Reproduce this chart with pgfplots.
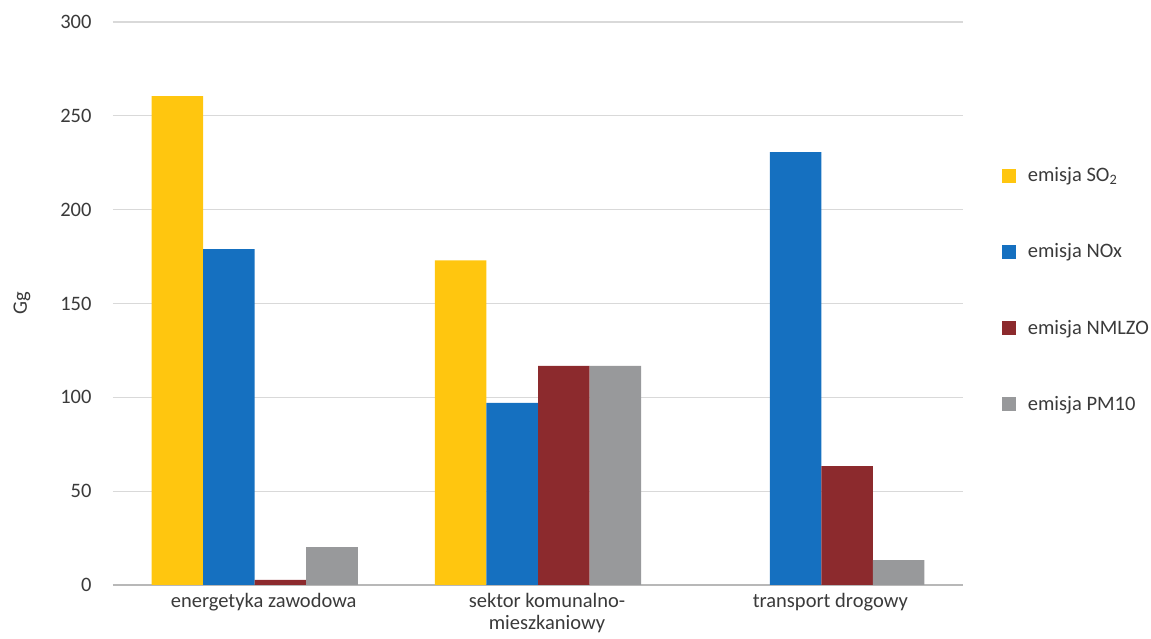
\documentclass[border=0pt]{standalone}
\usepackage{fontspec}
\setmainfont{Carlito}
\usepackage{pgfplots}
\pgfplotsset{compat=1.18}
\definecolor{cso}{HTML}{FFC60F}
\definecolor{cno}{HTML}{1570C0}
\definecolor{cnm}{HTML}{8C2A2D}
\definecolor{cpm}{HTML}{98999B}
\definecolor{ctxt}{HTML}{3A3A3A}
\definecolor{cgrid}{HTML}{D9D9D9}
\pgfplotsset{sqleg/.style={legend image code/.code={\fill[##1] (0pt,-7pt) rectangle (14pt,7pt);}}}
\begin{document}
\begin{tikzpicture}
\useasboundingbox (-113pt,-54pt) rectangle (1038pt,585pt);
\begin{axis}[
  at={(0,0)}, anchor=south west,
  scale only axis, width=850pt, height=563pt,
  xmin=-0.5, xmax=2.5, ymin=0, ymax=300,
  ybar=0pt, bar width=0.182,
  xtick={0,1,2},
  xticklabels={energetyka zawodowa,{sektor komunalno-\\mieszkaniowy},transport drogowy},
  ytick={0,50,...,300},
  major tick length=0pt,
  axis x line=bottom, axis y line=left,
  x axis line style={-, draw=cgrid!85!black, line width=1.2pt},
  y axis line style={draw=none},
  ymajorgrids, grid style={cgrid, line width=1.2pt},
  /pgf/number format/assume math mode=true,
  tick label style={font=\fontsize{20.5pt}{22pt}\selectfont, text=ctxt},
  xticklabel style={align=center, yshift=-5pt, xshift=9pt},
  yticklabel style={xshift=-18pt},
  ylabel={Gg},
  ylabel style={font=\fontsize{20.5pt}{23pt}\selectfont, text=ctxt, at={(axis description cs:-0.107,0.5)}, anchor=center},
  legend style={at={(1.0455,0.745)}, anchor=north west, draw=none, fill=none,
    font=\fontsize{20.5pt}{23pt}\selectfont, text=ctxt, row sep=56.5pt, column sep=10pt, inner sep=0pt},
  legend cell align=left,
]
\addplot[fill=cso, draw=none, sqleg] coordinates {(0,260.5) (1,173)};
\addplot[fill=cno, draw=none, sqleg] coordinates {(0,179) (1,97) (2,230.7)};
\addplot[fill=cnm, draw=none, sqleg] coordinates {(0,2.7) (1,116.7) (2,63.4)};
\addplot[fill=cpm, draw=none, sqleg] coordinates {(0,20.2) (1,116.7) (2,13.3)};
\legend{emisja SO\textsubscript{2},emisja NOx,emisja NMLZO,emisja PM10}
\end{axis}
\end{tikzpicture}
\end{document}
